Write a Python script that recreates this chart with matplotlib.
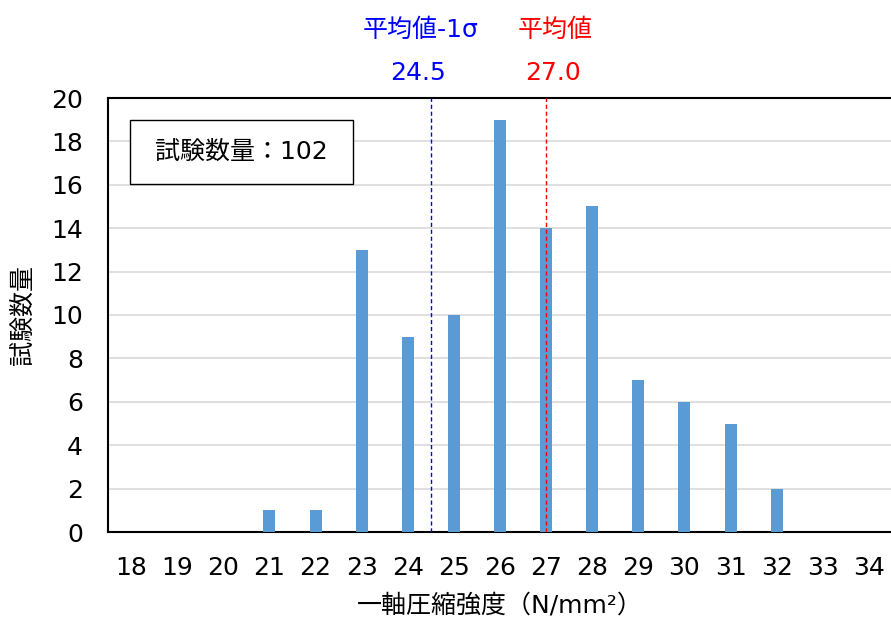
import matplotlib
matplotlib.use('Agg')
import matplotlib.pyplot as plt
import matplotlib.transforms as mtransforms
from matplotlib.patches import Rectangle

# Latin glyphs from DejaVu (Verdana-like), CJK from Noto
plt.rcParams['font.family'] = ['DejaVu Sans', 'Noto Sans CJK JP']

# data
strength = [18, 19, 20, 21, 22, 23, 24, 25, 26, 27, 28, 29, 30, 31, 32, 33, 34]
counts = [0, 0, 0, 1, 1, 13, 9, 10, 19, 14, 15, 7, 6, 5, 2, 0, 0]
mean_val = 27.0
mean_minus_sigma = 24.5
n_tests = 102

fs = 18

fig = plt.figure(figsize=(8.91, 6.26), dpi=100)
ax = fig.add_axes([108/891, 1-532/626, 1-108/891, (532-98)/626])

ax.bar(strength, counts, width=0.26, color='#5B9BD5', zorder=3)

ax.set_xlim(17.5, 34.48)
ax.set_ylim(0, 20)
ax.set_yticks(range(0, 21, 2))
ax.set_xticks(strength)
ax.tick_params(axis='both', length=0, labelsize=fs, colors='black')
ax.tick_params(axis='x', pad=17)
ax.tick_params(axis='y', pad=18)
ax.yaxis.grid(True, color='#D9D9D9', linewidth=1.2, zorder=0)
ax.set_axisbelow(True)

for s in ['left', 'top', 'bottom']:
    ax.spines[s].set_linewidth(1.5)
    ax.spines[s].set_color('black')
ax.spines['right'].set_visible(False)

# mean lines
ax.axvline(mean_minus_sigma, color='blue', linestyle=(0, (3, 2)), linewidth=1, zorder=4)
ax.axvline(mean_val, color='red', linestyle=(0, (3, 2)), linewidth=1, zorder=4)

trans = mtransforms.blended_transform_factory(ax.transData, ax.transAxes)
ax.text(mean_minus_sigma - 0.22, 1.157, '平均値-1σ', color='blue', fontsize=fs,
        ha='center', va='center', transform=trans)
ax.text(mean_minus_sigma - 0.28, 1.058, f'{mean_minus_sigma:.1f}', color='blue', fontsize=fs,
        ha='center', va='center', transform=trans)
ax.text(mean_val + 0.2, 1.157, '平均値', color='red', fontsize=fs,
        ha='center', va='center', transform=trans)
ax.text(mean_val + 0.15, 1.058, f'{mean_val:.1f}', color='red', fontsize=fs,
        ha='center', va='center', transform=trans)

# count box
ax.add_patch(Rectangle((0.0281, 0.8018), 0.2848, 0.1475, transform=ax.transAxes,
                       facecolor='white', edgecolor='black', linewidth=1, zorder=5))
ax.text(0.1705, 0.8755, f'試験数量：{n_tests}', fontsize=fs, ha='center', va='center',
        transform=ax.transAxes, zorder=6)

ax.set_xlabel('一軸圧縮強度（N/mm²）', fontsize=fs, labelpad=10)
ax.set_ylabel('試験数量', fontsize=fs, labelpad=12)

fig.savefig('out.png', dpi=100)
